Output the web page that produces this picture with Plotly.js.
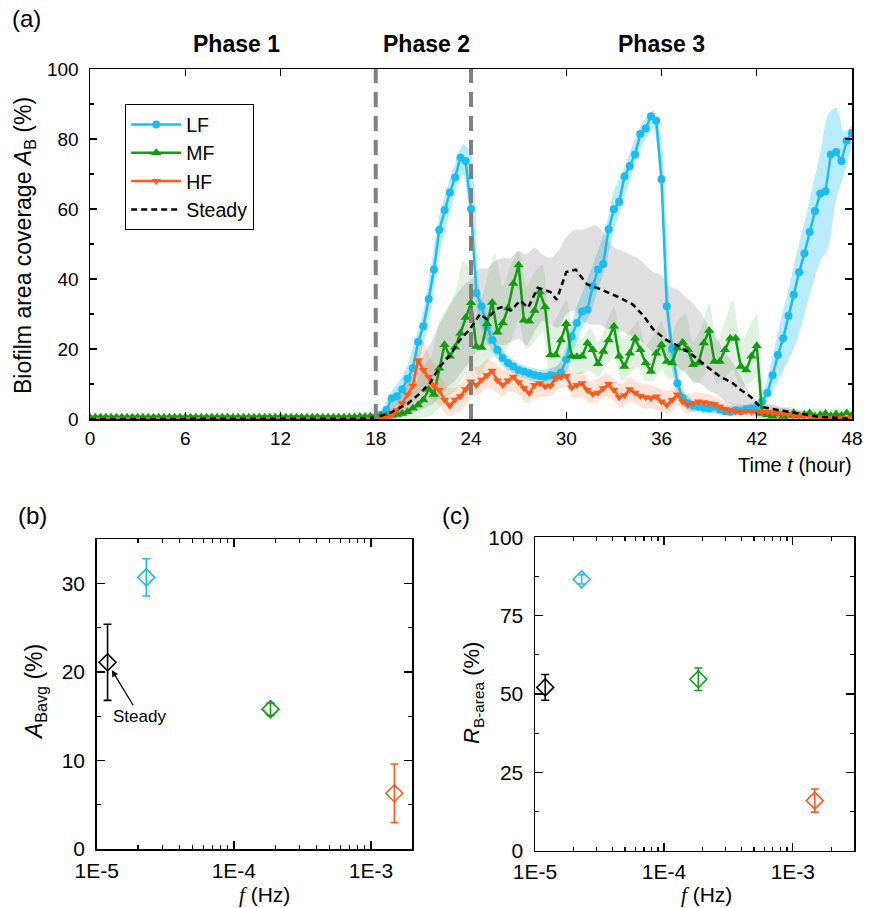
<!DOCTYPE html>
<html>
<head>
<meta charset="utf-8">
<script src="https://cdn.plot.ly/plotly-3.0.1.min.js"></script>
<style>html,body{margin:0;padding:0;background:#fff;}#chart{width:879px;height:908px;}</style>
</head>
<body>
<div id="chart"></div>
<script>
// ---------- Panel (a): time series, sampled every 20 min from t = 0 h ----------
const seriesNames = ['LF', 'MF', 'HF', 'Steady'];

const lfMean = [
  0,0,0,0,0,0,0,0,0,0,0,0,
  0,0,0,0,0,0,0,0,0,0,0,0,
  0,0,0,0,0,0,0,0,0,0,0,0,
  0,0,0,0,0,0,0,0,0,0,0,0,
  0,0,0, 0.1,0.1,0.2,
  0.5,1.2,2.6,5.9,6.5,8.5,11.5,14.5,22.0,26.5,34.3,42.7,54.0,59.7,64.7,69.0,74.7,73.7,
  60.0,36.0,32.2,26.5,22.6,19.8,17.4,16.0,15.0,14.0,13.6,13.1,12.6,12.3,12.1,12.5,12.3,13.3,
  17.0,23.6,27.4,30.7,31.2,37.9,42.7,44.3,54.2,59.9,62.1,69.3,72.3,75.6,81.4,83.0,86.5,85.2,
  68.5,32.2,20.0,10.2,6.0,4.5,3.8,3.5,3.2,3.0,3.5,2.8,2.3,2.1,2.5,2.2,2.8,3.0,
  3.5,5.0,7.4,12.5,18.3,23.1,29.5,35.5,41.9,47.3,53.4,59.4,64.4,65.1,75.6,76.3,73.7,79.5,81.7
];
const mfMean = [
  0.5,0.5,0.5,0.5,0.5,0.5,0.5,0.5,0.5,0.5,0.5,0.5,
  0.5,0.5,0.5,0.5,0.5,0.5,0.5,0.5,0.5,0.5,0.5,0.5,
  0.5,0.5,0.5,0.5,0.5,0.5,0.5,0.5,0.5,0.5,0.5,0.5,
  0.5,0.5,0.5,0.5,0.5,0.5,0.5,0.5,0.5,0.5,0.5,0.5,
  0.5,0.6,0.6, 0.7,0.7,0.8,
  0.8,0.9,1.0,1.1,1.3,1.6,2.1,3.1,4.0,5.4,8.5,7.0,14.5,21.2,17.9,20.5,24.5,29.0,
  33.2,20.7,20.4,27.2,33.3,24.8,27.4,31.7,38.7,44.0,28.2,27.9,31.0,36.3,32.0,18.3,18.3,22.6,
  27.2,17.9,17.8,17.9,21.7,19.8,15.8,19.3,22.6,26.5,17.9,15.0,18.8,23.1,19.8,16.0,13.6,18.8,
  21.2,16.4,16.0,20.3,21.9,19.8,15.5,16.0,21.7,25.3,16.4,16.4,19.8,23.1,23.1,15.0,14.0,17.9,
  20.9,1.6,1.2,0.8,1.5,0.7,1.0,1.8,0.9,1.3,1.7,0.8,1.2,1.6,0.9,1.4,1.0,1.7,1.1
];
const hfMean = [
  0,0,0,0,0,0,0,0,0,0,0,0,
  0,0,0,0,0,0,0,0,0,0,0,0,
  0,0,0,0,0,0,0,0,0,0,0,0,
  0,0,0,0,0,0,0,0,0,0,0,0,
  0,0,0, 0,0,0,
  0.0,0.1,0.3,1.0,2.5,4.5,7.0,9.5,16.8,14.0,12.0,9.5,8.3,5.5,3.8,5.5,6.5,8.5,
  10.7,9.7,11.2,12.5,13.8,11.0,9.7,11.0,12.1,10.5,8.8,7.4,9.7,10.2,9.3,9.5,11.7,12.1,
  12.3,9.0,9.7,10.2,8.3,7.2,7.5,8.8,10.0,8.3,6.2,6.8,8.5,7.5,6.6,6.2,5.9,6.4,
  5.0,4.0,5.4,7.0,5.0,4.0,4.5,5.0,4.8,4.5,4.2,3.5,2.8,2.5,2.2,2.1,2.3,2.1,
  2.0,2.1,2.0,1.8,1.6,1.5,1.3,1.1,1.0,0.9,0.7,0.6,0.5,0.4,0.3,0.3,0.2,0.2,0.2
];
// Steady (dashed line, no markers)
const steadyTime = [0,17,18,19,20,20.8,21.4,22.05,22.7,23.3,23.9,24.57,25.0,25.6,26.0,26.5,27.1,27.6,28.2,29.0,29.4,30.0,30.6,31.3,32.1,33.2,34.2,34.9,35.5,36.3,37.0,37.8,38.85,39.7,40.5,41.0,41.6,42.2,43.3,44.5,45.8,48];
const steadyMean = [0,0.1,0.4,2.0,4.3,7.4,10.2,15.0,18.3,22.6,25.5,30.0,28.5,31.5,32.0,31.0,33.8,31.8,37.5,36.3,34.1,42.0,42.7,38.5,37.2,35.0,32.7,29.3,25.5,22.6,21.0,18.8,15.0,12.1,10.2,8.3,6.4,3.5,2.6,1.6,0.7,0];

// Shaded spread bands, every 30 min from t = 17 h
const lfLow  = [0,0,0,0.5,3,4.5,8,14,21,32, 47,56,65,70,55,28,22,18,15,13.5, 12,11.5,10.5,10,10,10.5,13,20,26,30, 37,44,54,61,68,75,80,83,62,20, 7,3,2,1.8,1.5,1.5,1,1,1,1.5, 2,4,8,12,17,22,30,38,45,49, 63,70,78];
const lfHigh = [0.5,0.5,1,3.5,8,11,15.5,23,31,44, 58,66,73,78.5,76,38,30,24,19.5,17.5, 16,15,14.5,14,14.5,15.5,21,30,36,42, 48,55,65,70,76,82,86,88,80,32, 13,7.5,5.5,5,4.5,4.7,3.8,3.8,3.6,4.3, 5,9,18,28,37,47,56,66,76,87, 89,82,84];
const mfLow  = [0,0,0,0,0,0,0,0,0.5,1, 3,6,8,12,16,12,16,18,18,22, 28,20,22,25,12,14,18,13,13,14, 12,15,18,11,13,15,11,11,14,11, 13,14,10,11,15,10,12,14,9,10, 12,0,0,0,0,0,0,0,0,0, 0,0,0];
const mfHigh = [1,1,1.5,2,3,4,6,10,15,18, 28,32,36,45,42,32,40,47,38,44, 48,38,42,44,26,30,34,24,23,26, 22,27,32,23,25,28,21,24,28,22, 28,30,22,26,33,22,28,34,22,26, 30,4,3.5,3,3.5,3,3,3,3,3, 3,3,3];
const hfLow  = [0,0,0,0,0,0,3,6,8,6, 4,1,1.5,3,6,7,9,8,6.5,8, 7,4.5,6,6.5,6.5,8.5,9,6,6.5,4.5, 5,6.5,5,3,5,4,3,3,2,1.5, 4,1.5,2,2.5,2,1.5,1,0.8,0.5,0.6, 0.5,0.4,0.3,0.2,0.1,0,0,0,0,0, 0,0,0];
const hfHigh = [0.5,0.5,0.8,1.5,3,6,11,19,22,17, 13,9,9,11,15,15,17,16,14,15, 14,12,13.5,13,13,15.5,16,13,13.5,11, 11.5,13,11.5,10,12,10.5,10,9.5,8.5,8, 10,7,7.5,7.5,7,6,5,4.5,4.2,4.2, 4,4,3.8,3.2,2.8,2.4,2,1.7,1.4,1.1, 0.8,0.6,0.5];
const stLow  = [0,0,0,0,0,0.5,1,2,3,4, 6,9,11,14,17,20,21,22,21,22, 23,21,25,28,27,26,30,31,28,27, 27,26,25,25,24,23,21,19,18,17, 15,13,11,10,8,7,5,4,3,2, 0.5,0,0,0,0,0,0,0,0,0, 0,0,0];
const stHigh = [0.5,1,1.5,2.5,4.5,7,10,14,18,22, 27,31,35,38,40,43,43,45,46,46, 48,47,49,47,46,48,52,54,54,55, 55,52,49,48,47,46,44,42,41,38, 37,35,33,30,26,23,19,16,12,8, 5.5,4.5,4,3.5,3,2.5,2,1.5,1.2,0.8, 0.5,0.3,0.2];

const phaseBounds = [18, 24];
const phaseLabels = ['Phase 1', 'Phase 2', 'Phase 3'];
const phaseLabelAt = [9.25, 21.2, 36.0];

// ---------- Panels (b) and (c) ----------
const caseNames = ['Steady', 'LF', 'MF', 'HF'];
const freqHz = [1.2e-5, 2.3e-5, 1.85e-4, 1.48e-3];
const aBavg = [21.1, 30.7, 15.8, 6.3];
const aBavgErr = [4.3, 2.1, 0.7, 3.3];
const rBarea = [52.1, 86.6, 54.7, 16.0];
const rBareaErr = [4.1, 1.5, 3.6, 3.7];

// ---------- styles ----------
const FONT = 'Liberation Sans, Arial, sans-serif';
const colors = {LF: '#1cbcf0', MF: '#119c11', HF: '#ff5a1a', Steady: '#000000'};
const bandFill = {LF: 'rgba(20,190,245,0.30)', MF: 'rgba(40,170,40,0.15)', HF: 'rgba(255,100,40,0.18)', Steady: 'rgba(140,140,140,0.28)'};
const dt = 1/3, bandT0 = 17, bandDt = 0.5;

function band(lo, hi, key) {
  return [
    {x0: bandT0, dx: bandDt, y: lo, type: 'scatter', mode: 'lines', line: {width: 0, shape: 'spline', smoothing: 0.7},
     hoverinfo: 'skip', showlegend: false, xaxis: 'x', yaxis: 'y'},
    {x0: bandT0, dx: bandDt, y: hi, type: 'scatter', mode: 'lines', fill: 'tonexty', fillcolor: bandFill[key],
     line: {width: 0, shape: 'spline', smoothing: 0.7}, hoverinfo: 'skip', showlegend: false, xaxis: 'x', yaxis: 'y'}
  ];
}

const traces = [];
traces.push(...band(lfLow, lfHigh, 'LF'));
traces.push(...band(mfLow, mfHigh, 'MF'));
traces.push(...band(hfLow, hfHigh, 'HF'));
traces.push(...band(stLow, stHigh, 'Steady'));

traces.push({name: 'LF', x0: 0, dx: dt, y: lfMean, type: 'scatter', mode: 'lines+markers', legendrank: 1,
  line: {color: colors.LF, width: 2.5}, marker: {symbol: 'circle', size: 8, color: colors.LF}, xaxis: 'x', yaxis: 'y'});
traces.push({name: 'MF', x0: 0, dx: dt, y: mfMean, type: 'scatter', mode: 'lines+markers', legendrank: 2,
  line: {color: colors.MF, width: 2.5}, marker: {symbol: 'triangle-up', size: 9, color: colors.MF}, xaxis: 'x', yaxis: 'y'});
traces.push({name: 'HF', x0: 0, dx: dt, y: hfMean, type: 'scatter', mode: 'lines+markers', legendrank: 3,
  line: {color: colors.HF, width: 2.5}, marker: {symbol: 'triangle-down', size: 8, color: colors.HF}, xaxis: 'x', yaxis: 'y'});
traces.push({name: 'Steady', x: steadyTime, y: steadyMean, type: 'scatter', mode: 'lines', legendrank: 4,
  line: {color: colors.Steady, width: 2.5, dash: '6px,4px'}, xaxis: 'x', yaxis: 'y'});

caseNames.forEach((nm, i) => {
  traces.push({x: [freqHz[i]], y: [aBavg[i]], type: 'scatter', mode: 'markers', showlegend: false, xaxis: 'x2', yaxis: 'y2',
    marker: {symbol: 'diamond-open', size: 13, color: colors[nm], line: {width: 1.6, color: colors[nm]}},
    error_y: {type: 'data', array: [aBavgErr[i]], visible: true, color: colors[nm], thickness: 1.6, width: 4}});
  traces.push({x: [freqHz[i]], y: [rBarea[i]], type: 'scatter', mode: 'markers', showlegend: false, xaxis: 'x3', yaxis: 'y3',
    marker: {symbol: 'diamond-open', size: 13, color: colors[nm], line: {width: 1.6, color: colors[nm]}},
    error_y: {type: 'data', array: [rBareaErr[i]], visible: true, color: colors[nm], thickness: 1.6, width: 4}});
});

const W = 879, H = 908;
const px = v => v / W, py = v => 1 - v / H;

const minorLog = [];
[-5, -4, -3].forEach(d => { for (let m = 2; m <= 9; m++) minorLog.push(m * Math.pow(10, d)); });

const axBase = {showline: true, linecolor: '#000', linewidth: 1.5, mirror: 'ticks', ticks: 'inside', tickcolor: '#000',
  tickwidth: 1.3, showgrid: false, zeroline: false, tickfont: {family: FONT, size: 19, color: '#000'}};

const layout = {
  width: W, height: H, paper_bgcolor: '#fff', plot_bgcolor: '#fff',
  margin: {l: 0, r: 0, t: 0, b: 0}, showlegend: true,
  font: {family: FONT, color: '#000'},
  xaxis: Object.assign({}, axBase, {domain: [px(90), px(852)], range: [0, 48], tickmode: 'array',
    tickvals: [0, 6, 12, 18, 24, 30, 36, 42, 48], ticklen: 7, anchor: 'y', ticklabelstandoff: 2}),
  yaxis: Object.assign({}, axBase, {domain: [py(419), py(69)], range: [0, 100], dtick: 20, ticklen: 7, anchor: 'x',
    ticklabelstandoff: 6, minor: {dtick: 10, ticks: 'inside', ticklen: 4, tickcolor: '#000', tickwidth: 1.2}}),
  xaxis2: Object.assign({}, axBase, {type: 'log', domain: [px(96.7), px(412.3)], range: [-5, Math.log10(0.002)],
    tickmode: 'array', tickvals: [1e-5, 1e-4, 1e-3], ticktext: ['1E-5', '1E-4', '1E-3'], ticklen: 8, anchor: 'y2',
    tickfont: {family: FONT, size: 21, color: '#000'}, ticklabelstandoff: 2,
    minor: {tickmode: 'array', tickvals: minorLog, ticks: 'inside', ticklen: 4, tickcolor: '#000', tickwidth: 1.2}}),
  yaxis2: Object.assign({}, axBase, {domain: [py(849), py(539.3)], range: [0, 35], dtick: 10, ticklen: 8, anchor: 'x2',
    tickfont: {family: FONT, size: 21, color: '#000'}, ticklabelstandoff: 6,
    minor: {dtick: 5, ticks: 'inside', ticklen: 4, tickcolor: '#000', tickwidth: 1.2}}),
  xaxis3: Object.assign({}, axBase, {type: 'log', domain: [px(535), px(854.3)], range: [-5, Math.log10(0.003)],
    tickmode: 'array', tickvals: [1e-5, 1e-4, 1e-3], ticktext: ['1E-5', '1E-4', '1E-3'], ticklen: 8, anchor: 'y3',
    tickfont: {family: FONT, size: 21, color: '#000'}, ticklabelstandoff: 2,
    minor: {tickmode: 'array', tickvals: minorLog, ticks: 'inside', ticklen: 4, tickcolor: '#000', tickwidth: 1.2}}),
  yaxis3: Object.assign({}, axBase, {domain: [py(850.7), py(537.3)], range: [0, 100], tickmode: 'array',
    tickvals: [0, 25, 50, 75, 100], ticklen: 8, anchor: 'x3', tickfont: {family: FONT, size: 21, color: '#000'}, ticklabelstandoff: 6,
    minor: {tickmode: 'array', tickvals: [12.5, 37.5, 62.5, 87.5], ticks: 'inside', ticklen: 4, tickcolor: '#000', tickwidth: 1.2}}),
  legend: {x: px(125), y: py(104), xanchor: 'left', yanchor: 'top', bgcolor: '#fff', bordercolor: '#000', borderwidth: 1.2,
    font: {family: FONT, size: 19.5, color: '#000'}, itemwidth: 50, tracegroupgap: 0, traceorder: 'normal'},
  shapes: phaseBounds.map(t => ({type: 'line', xref: 'x', yref: 'y domain', x0: t, x1: t, y0: 0, y1: 1,
    line: {color: '#808080', width: 4, dash: '15px,9px'}, layer: 'above'})),
  annotations: []
};

const ann = layout.annotations;
phaseLabels.forEach((lab, i) => ann.push({text: '<b>' + lab + '</b>', xref: 'x', yref: 'paper', x: phaseLabelAt[i], y: py(44),
  showarrow: false, font: {family: FONT, size: 23, color: '#000'}, xanchor: 'center', yanchor: 'middle'}));
ann.push({text: '(a)', xref: 'paper', yref: 'paper', x: px(10), y: py(19), showarrow: false, xanchor: 'left', yanchor: 'middle',
  font: {family: FONT, size: 24}});
ann.push({text: '(b)', xref: 'paper', yref: 'paper', x: px(16), y: py(515), showarrow: false, xanchor: 'left', yanchor: 'middle',
  font: {family: FONT, size: 24}});
ann.push({text: '(c)', xref: 'paper', yref: 'paper', x: px(440), y: py(515), showarrow: false, xanchor: 'left', yanchor: 'middle',
  font: {family: FONT, size: 24}});
ann.push({text: 'Biofilm area coverage <i>A</i><sub>B</sub> (%)', xref: 'paper', yref: 'paper', x: px(24), y: py(246),
  textangle: -90, showarrow: false, xanchor: 'center', yanchor: 'middle', font: {family: FONT, size: 23}});
ann.push({text: 'Time <i>t</i> (hour)', xref: 'paper', yref: 'paper', x: px(854), y: py(465), showarrow: false,
  xanchor: 'right', yanchor: 'middle', font: {family: FONT, size: 20}});
ann.push({text: '<i>A</i><sub>Bavg</sub> (%)', xref: 'paper', yref: 'paper', x: px(35), y: py(692), textangle: -90,
  showarrow: false, xanchor: 'center', yanchor: 'middle', font: {family: FONT, size: 23}});
ann.push({text: '<i>R</i><sub>B-area</sub> (%)', xref: 'paper', yref: 'paper', x: px(473), y: py(693), textangle: -90,
  showarrow: false, xanchor: 'center', yanchor: 'middle', font: {family: FONT, size: 22}});
const fLabel = '<span style="font-family:Liberation Serif,serif"><i>f</i></span> (Hz)';
ann.push({text: fLabel, xref: 'paper', yref: 'paper', x: px(264), y: py(895), showarrow: false, xanchor: 'center',
  yanchor: 'middle', font: {family: FONT, size: 21}});
ann.push({text: fLabel, xref: 'paper', yref: 'paper', x: px(706), y: py(895), showarrow: false, xanchor: 'center',
  yanchor: 'middle', font: {family: FONT, size: 21}});
ann.push({text: 'Steady', xref: 'x2', yref: 'y2', x: Math.log10(1.29e-5), y: 20.2, ax: 28, ay: 46, showarrow: true,
  arrowhead: 2, arrowsize: 1, arrowwidth: 1.3, arrowcolor: '#000', font: {family: FONT, size: 17, color: '#000'}});

Plotly.newPlot('chart', traces, layout, {displayModeBar: false, staticPlot: true});
</script>
</body>
</html>
